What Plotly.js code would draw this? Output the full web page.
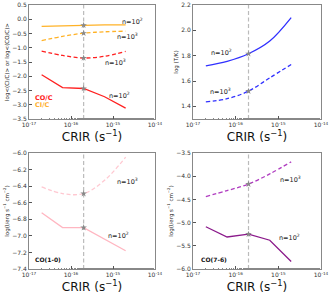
<!DOCTYPE html>
<html><head><meta charset="utf-8">
<script src="https://cdn.plot.ly/plotly-3.0.1.min.js"></script>
<style>html,body{margin:0;padding:0;background:#fff}#c{width:332px;height:296px}</style>
</head><body><div id="c"></div>
<script>
const crir = [2e-17, 6.3e-17, 2e-16, 6.3e-16, 2e-15];
const crirRef = 2e-16;
// Panel 1: abundance ratios
const ciC_n2 = [-0.25, -0.23, -0.21, -0.20, -0.20];
const ciC_n3 = [-0.75, -0.60, -0.49, -0.44, -0.42];
const coC_n3 = [-1.12, -1.27, -1.36, -1.30, -1.13];
const coC_n2 = [-1.95, -2.40, -2.43, -2.72, -3.12];
// Panel 2: temperature
const logT_n2 = [1.72, 1.755, 1.815, 1.915, 2.10];
const logT_n3 = [1.435, 1.46, 1.52, 1.625, 1.73];
// Panel 3: CO(1-0)
const co10_n3 = [-6.41, -6.49, -6.49, -6.33, -6.05];
const co10_n2 = [-6.72, -6.90, -6.90, -7.04, -7.18];
// Panel 4: CO(7-6)
const co76_n3 = [-4.44, -4.31, -4.17, -3.95, -3.69];
const co76_n2 = [-5.09, -5.31, -5.25, -5.38, -5.84];
const xTickVals = [1e-17, 1e-16, 1e-15, 1e-14];
const xTickText = ['10<sup>-17</sup>','10<sup>-16</sup>','10<sup>-15</sup>','10<sup>-14</sup>'];

const font = 'DejaVu Sans, Arial, sans-serif';
const traces = [];
function line(x, y, color, dash, ax, shape, alpha){
  traces.push({x:x, y:y, mode:'lines', type:'scatter', xaxis:'x'+ax, yaxis:'y'+ax,
    line:{color:color, width:1.3, dash:dash, shape:shape||'linear'}, opacity:alpha||1, hoverinfo:'skip'});
}
function star(y, ax){
  traces.push({x:[crirRef], y:[y], mode:'markers', type:'scatter', xaxis:'x'+ax, yaxis:'y'+ax,
    marker:{symbol:'star', size:5, color:'#888'}, hoverinfo:'skip'});
}
const D = '4px,2.5px';
line(crir, ciC_n2, '#ffa500', 'solid', '', 'linear', 0.85);
line(crir, ciC_n3, '#ffa500', D, '', 'spline', 0.85);
line(crir, coC_n3, '#ff2020', D, '', 'spline');
line(crir, coC_n2, '#ff2020', 'solid', '', 'linear');
star(ciC_n2[2], ''); star(ciC_n3[2], ''); star(coC_n3[2], ''); star(coC_n2[2], '');
line(crir, logT_n2, '#3030ff', 'solid', '2', 'spline');
line(crir, logT_n3, '#3030ff', D, '2', 'spline');
star(logT_n2[2], '2'); star(logT_n3[2], '2');
line(crir, co10_n3, '#ffb6c1', D, '3', 'spline', 0.75);
line(crir, co10_n2, '#ffb6c1', 'solid', '3', 'linear');
star(co10_n3[2], '3'); star(co10_n2[2], '3');
line(crir, co76_n3, '#b03cc0', D, '4', 'spline');
line(crir, co76_n2, '#8b1a8b', 'solid', '4', 'linear');
star(co76_n3[2], '4'); star(co76_n2[2], '4');

function xax(domain, anchor){
  return {type:'log', domain:domain, anchor:anchor, range:[-17,-14], tickvals:xTickVals, ticktext:xTickText,
    ticks:'inside', ticklen:3, tickcolor:'#555', showline:true, mirror:true, linecolor:'#888', linewidth:1,
    showgrid:false, zeroline:false, tickfont:{size:6, color:'#333', family:font},
    minor:{ticks:'inside', ticklen:1.5, tickcolor:'#888', showgrid:false},
    title:{text:'CRIR (s<sup>−1</sup>)', font:{size:12, color:'#111', family:font}, standoff:3}};
}
function yax(domain, anchor, range, tick0, dtick, title, fmt){
  return {domain:domain, anchor:anchor, range:range, dtick:dtick, tick0:tick0, tickformat:fmt,
    ticks:'inside', ticklen:3, tickcolor:'#555', showline:true, mirror:true, linecolor:'#888', linewidth:1,
    showgrid:false, zeroline:false, tickfont:{size:6, color:'#333', family:font},
    title:{text:title, font:{size:5.5, color:'#222', family:font}, standoff:2}};
}
const dx1=[29/332,155/332], dx2=[193/332,321/332];
const dy1=[1-119/296,1-5/296], dy2=[1-269/296,1-153/296];
const layout = {
  width:332, height:296, margin:{l:0,r:0,t:0,b:0}, showlegend:false,
  paper_bgcolor:'#fff', plot_bgcolor:'#fff', font:{family:font},
  xaxis:xax(dx1,'y'), yaxis:yax(dy1,'x',[-3.5,0.5],-3.5,0.5,'log<(CI/C)> or log<(CO/C)>','.1f'),
  xaxis2:xax(dx2,'y2'), yaxis2:yax(dy1,'x2',[1.3,2.2],1.4,0.2,'log (T/K)','.1f'),
  xaxis3:xax(dx1,'y3'), yaxis3:yax(dy2,'x3',[-7.4,-6.0],-7.4,0.2,'log(I/erg s<sup>−1</sup> cm<sup>−2</sup>)','.1f'),
  xaxis4:xax(dx2,'y4'), yaxis4:yax(dy2,'x4',[-6.0,-3.5],-6.0,0.5,'log(I/erg s<sup>−1</sup> cm<sup>−2</sup>)','.1f'),
  shapes:['','2','3','4'].map(a=>({type:'line', xref:'x'+a, yref:'y'+a+' domain', x0:crirRef, x1:crirRef, y0:0, y1:1,
    line:{color:'#bbb', width:1.2, dash:'4px,2.5px'}, layer:'below'})),
  annotations:[]
};
// x given as log10(CRIR) for annotation placement on log axes
function ann(ax, lx, y, text, color, size, bold){
  layout.annotations.push({xref:'x'+ax, yref:'y'+ax, x:lx, y:y, text:bold?'<b>'+text+'</b>':text, showarrow:false,
    xanchor:'left', yanchor:'middle', font:{size:size||6.5, color:color||'#222', family:font}});
}
ann('', -14.83, -0.08, 'n=10<sup>2</sup>');
ann('', -14.95, -0.59, 'n=10<sup>3</sup>');
ann('', -15.24, -1.52, 'n=10<sup>3</sup>');
ann('', -15.14, -2.69, 'n=10<sup>2</sup>');
ann('', -16.9, -2.76, 'CO/C', '#ff2020', 6.5, true);
ann('', -16.9, -3.0, 'CI/C', '#ffb030', 6.5, true);
ann('2', -16.63, 1.825, 'n=10<sup>2</sup>');
ann('2', -16.65, 1.52, 'n=10<sup>3</sup>');
ann('3', -14.95, -6.34, 'n=10<sup>3</sup>');
ann('3', -15.17, -7.0, 'n=10<sup>2</sup>');
ann('3', -16.9, -7.29, 'CO(1-0)', '#111', 6, true);
ann('4', -15.0, -4.07, 'n=10<sup>3</sup>');
ann('4', -15.03, -5.32, 'n=10<sup>2</sup>');
ann('4', -16.85, -5.8, 'CO(7-6)', '#111', 6, true);
Plotly.newPlot('c', traces, layout, {staticPlot:true, displayModeBar:false});
</script></body></html>
